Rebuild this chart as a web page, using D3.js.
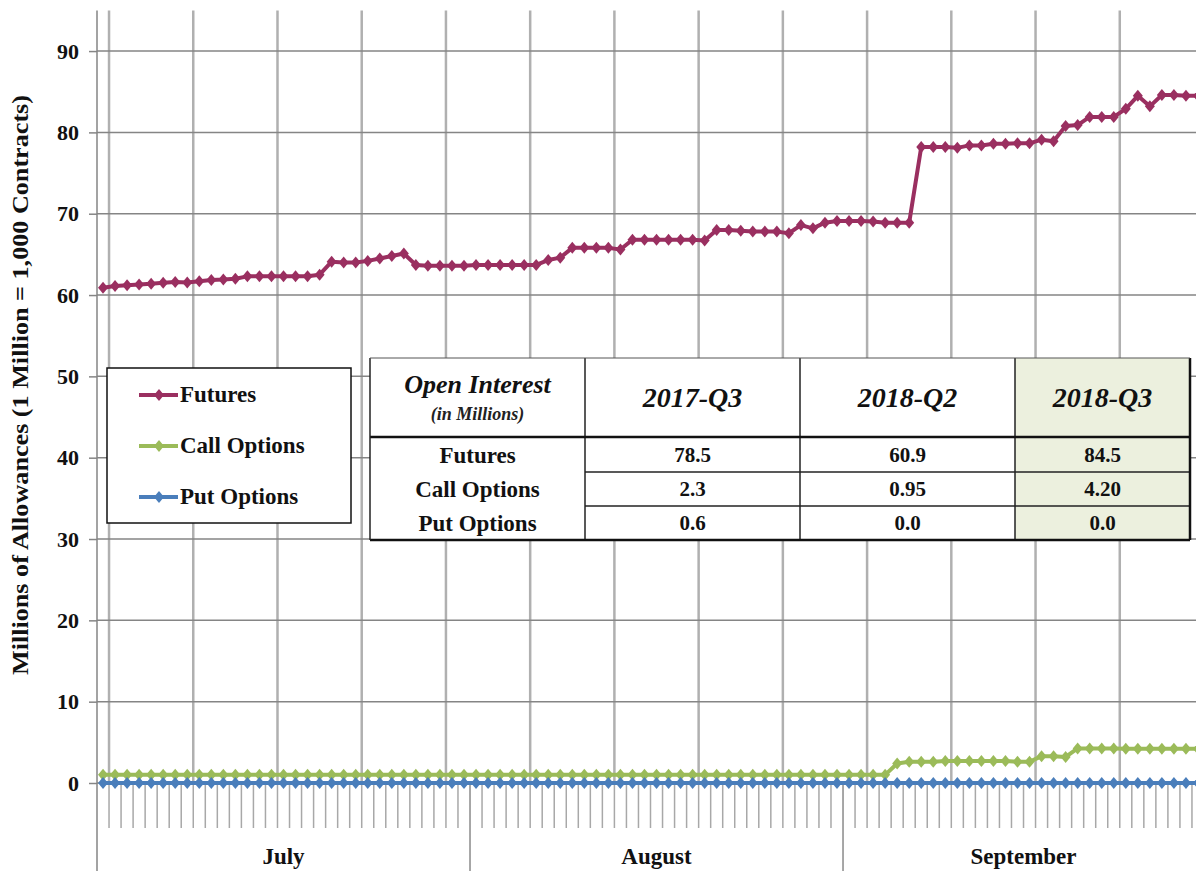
<!DOCTYPE html>
<html>
<head>
<meta charset="utf-8">
<script src="https://cdn.jsdelivr.net/npm/d3@7"></script>
<style>
  body { margin: 0; background: #fff; }
  svg { display: block; font-family: "Liberation Serif", "Times New Roman", serif; }
</style>
</head>
<body>
<svg id="chart" width="1196" height="871"></svg>
<script>
// one point per calendar day, July 1 - Sept 30 2018
const days = d3.timeDay.range(new Date(2018, 6, 1), new Date(2018, 9, 1));
const months = ['July', 'August', 'September'];
const yTicks = [0, 10, 20, 30, 40, 50, 60, 70, 80, 90];

const futures = [
  60.9, 61.1, 61.2, 61.3, 61.4, 61.5, 61.6, 61.55, 61.7, 61.85,
  61.9, 62.0, 62.3, 62.3, 62.3, 62.3, 62.3, 62.3, 62.5, 64.1,
  64.0, 64.0, 64.2, 64.5, 64.8, 65.1, 63.7, 63.6, 63.6, 63.6,
  63.6, 63.7, 63.7, 63.7, 63.7, 63.7, 63.7, 64.3, 64.6, 65.8,
  65.8, 65.8, 65.8, 65.6, 66.8, 66.8, 66.8, 66.8, 66.8, 66.8,
  66.7, 68.0, 68.0, 67.9, 67.8, 67.8, 67.8, 67.6, 68.6, 68.2,
  68.9, 69.1, 69.1, 69.1, 69.05, 68.9, 68.9, 68.9, 78.2, 78.2,
  78.2, 78.1, 78.4, 78.4, 78.6, 78.6, 78.65, 78.65, 79.1, 78.9,
  80.8, 80.9, 81.9, 81.9, 81.9, 82.9, 84.5, 83.2, 84.6, 84.6,
  84.5, 84.5
];
const callOptions = [
  1.0, 1.0, 1.0, 1.0, 1.0, 1.0, 1.0, 1.0, 1.0, 1.0,
  1.0, 1.0, 1.0, 1.0, 1.0, 1.0, 1.0, 1.0, 1.0, 1.0,
  1.0, 1.0, 1.0, 1.0, 1.0, 1.0, 1.0, 1.0, 1.0, 1.0,
  1.0, 1.0, 1.0, 1.0, 1.0, 1.0, 1.0, 1.0, 1.0, 1.0,
  1.0, 1.0, 1.0, 1.0, 1.0, 1.0, 1.0, 1.0, 1.0, 1.0,
  1.0, 1.0, 1.0, 1.0, 1.0, 1.0, 1.0, 1.0, 1.0, 1.0,
  1.0, 1.0, 1.0, 1.0, 1.0, 1.0, 2.4, 2.6, 2.6, 2.6,
  2.7, 2.7, 2.7, 2.7, 2.7, 2.7, 2.6, 2.6, 3.3, 3.3,
  3.2, 4.25, 4.25, 4.25, 4.25, 4.2, 4.2, 4.2, 4.2, 4.2,
  4.2, 4.2
];
const putOptions = [
  0, 0, 0, 0, 0, 0, 0, 0, 0, 0,
  0, 0, 0, 0, 0, 0, 0, 0, 0, 0,
  0, 0, 0, 0, 0, 0, 0, 0, 0, 0,
  0, 0, 0, 0, 0, 0, 0, 0, 0, 0,
  0, 0, 0, 0, 0, 0, 0, 0, 0, 0,
  0, 0, 0, 0, 0, 0, 0, 0, 0, 0,
  0, 0, 0, 0, 0, 0, 0, 0, 0, 0,
  0, 0, 0, 0, 0, 0, 0, 0, 0, 0,
  0, 0, 0, 0, 0, 0, 0, 0, 0, 0,
  0, 0
];

const seriesNames = ['Futures', 'Call Options', 'Put Options'];
const seriesColors = ['#9a2f60', '#9bbb59', '#4a7ebb'];

const tableCols = ['2017-Q3', '2018-Q2', '2018-Q3'];
const tableRows = ['Futures', 'Call Options', 'Put Options'];
const tableVals = [
  ['78.5', '60.9', '84.5'],
  ['2.3', '0.95', '4.20'],
  ['0.6', '0.0', '0.0']
];

const svg = d3.select('#chart');

const x = d3.scaleBand().domain(d3.range(days.length)).range([97, 1204]);
const y = d3.scaleLinear().domain([0, 95]).range([783, 10.4]);
const cx = i => x(i) + x.bandwidth() / 2;
const edge = i => i < days.length ? x(i) : x.range()[1];

// vertical gridlines: start of each week (Mondays)
const mondays = d3.range(days.length).filter(i => days[i].getDay() === 1);
svg.append('g').selectAll('line')
  .data(mondays)
  .enter().append('line')
  .attr('x1', i => x(i)).attr('x2', i => x(i))
  .attr('y1', y(95)).attr('y2', y(0))
  .attr('stroke', '#b0b0b0').attr('stroke-width', 2.5);

// horizontal gridlines
svg.append('g').selectAll('line')
  .data(yTicks.filter(d => d > 0))
  .enter().append('line')
  .attr('x1', 97).attr('x2', 1196)
  .attr('y1', d => y(d)).attr('y2', d => y(d))
  .attr('stroke', '#858585').attr('stroke-width', 1.5);

// y axis
const yAxis = svg.append('g')
  .attr('transform', 'translate(97,0)')
  .call(d3.axisLeft(y).tickValues(yTicks).tickSize(8).tickPadding(10).tickFormat(d3.format('d')));
yAxis.select('.domain').remove();
yAxis.selectAll('.tick line').attr('stroke', '#858585').attr('stroke-width', 1.5);
yAxis.selectAll('.tick text')
  .attr('font-family', '"Liberation Serif", serif')
  .attr('font-size', 22).attr('font-weight', 'bold').attr('fill', '#111');

// left axis line runs down through the category labels
svg.append('line')
  .attr('x1', 97).attr('x2', 97).attr('y1', y(95)).attr('y2', 871)
  .attr('stroke', '#858585').attr('stroke-width', 1.5);

// x axis line
svg.append('line')
  .attr('x1', 97).attr('x2', 1204).attr('y1', y(0)).attr('y2', y(0))
  .attr('stroke', '#858585').attr('stroke-width', 1.5);

// day ticks and month separators
const monthStarts = d3.range(days.length + 1).filter(i => i === days.length || days[i].getDate() === 1);
svg.append('g').selectAll('line')
  .data(d3.range(1, days.length + 1))
  .enter().append('line')
  .attr('x1', edge).attr('x2', edge)
  .attr('y1', y(0))
  .attr('y2', i => monthStarts.includes(i) ? 871 : 828)
  .attr('stroke', i => monthStarts.includes(i) ? '#8a8a8a' : '#a8a8a8')
  .attr('stroke-width', 1.5);

svg.append('g').selectAll('text')
  .data(months)
  .enter().append('text')
  .attr('x', (d, k) => (edge(monthStarts[k]) + edge(monthStarts[k + 1])) / 2)
  .attr('y', 864)
  .attr('text-anchor', 'middle')
  .attr('font-size', 23).attr('font-weight', 'bold').attr('fill', '#111')
  .text(d => d);

// y axis title
svg.append('text')
  .attr('transform', 'translate(28,385) rotate(-90)')
  .attr('text-anchor', 'middle')
  .attr('font-size', 23).attr('font-weight', 'bold').attr('fill', '#111')
  .attr('textLength', 580).attr('lengthAdjust', 'spacingAndGlyphs')
  .text('Millions of Allowances  (1 Million = 1,000 Contracts)');

// series
const diamond = 'M0,-6L5,0L0,6L-5,0Z';
const line = d3.line().x((d, i) => cx(i)).y(d => y(d));
[futures, callOptions, putOptions].forEach((vals, s) => {
  const g = svg.append('g');
  g.append('path')
    .datum(vals)
    .attr('d', line)
    .attr('fill', 'none')
    .attr('stroke', seriesColors[s])
    .attr('stroke-width', 4)
    .attr('stroke-linejoin', 'round');
  g.selectAll('path.mk')
    .data(vals)
    .enter().append('path')
    .attr('class', 'mk')
    .attr('d', diamond)
    .attr('transform', (d, i) => `translate(${cx(i)},${y(d)})`)
    .attr('fill', seriesColors[s]);
});

// legend
const legend = svg.append('g');
legend.append('rect')
  .attr('x', 107).attr('y', 368).attr('width', 244).attr('height', 155)
  .attr('fill', '#fff').attr('stroke', '#111').attr('stroke-width', 1.5);
const items = legend.selectAll('g.item')
  .data(seriesNames)
  .enter().append('g')
  .attr('class', 'item')
  .attr('transform', (d, i) => `translate(0,${395 + i * 51})`);
items.append('line')
  .attr('x1', 139).attr('x2', 178)
  .attr('stroke', (d, i) => seriesColors[i]).attr('stroke-width', 4);
items.append('path')
  .attr('d', diamond)
  .attr('transform', 'translate(159,0)')
  .attr('fill', (d, i) => seriesColors[i]);
items.append('text')
  .attr('x', 180).attr('y', 7)
  .attr('font-size', 23).attr('font-weight', 'bold').attr('fill', '#111')
  .text(d => d);

// open interest table
const colEdges = [370, 585, 800, 1015, 1190];
const rowEdges = [358, 437, 472, 506, 540];
const table = svg.append('g');
table.append('rect')
  .attr('x', colEdges[0]).attr('y', rowEdges[0])
  .attr('width', colEdges[4] - colEdges[0]).attr('height', rowEdges[4] - rowEdges[0])
  .attr('fill', '#fff');
table.append('rect')
  .attr('x', colEdges[3]).attr('y', rowEdges[0])
  .attr('width', colEdges[4] - colEdges[3]).attr('height', rowEdges[4] - rowEdges[0])
  .attr('fill', '#ecf0de');
// column lines
table.selectAll('line.col')
  .data(colEdges.slice(1, 4))
  .enter().append('line')
  .attr('x1', d => d).attr('x2', d => d)
  .attr('y1', rowEdges[0]).attr('y2', rowEdges[4])
  .attr('stroke', '#222').attr('stroke-width', 1.5);
// row lines inside the value columns
table.selectAll('line.row')
  .data(rowEdges.slice(2, 4))
  .enter().append('line')
  .attr('x1', colEdges[1]).attr('x2', colEdges[4])
  .attr('y1', d => d).attr('y2', d => d)
  .attr('stroke', '#222').attr('stroke-width', 1.5);
table.append('line')
  .attr('x1', colEdges[0]).attr('x2', colEdges[4])
  .attr('y1', rowEdges[1]).attr('y2', rowEdges[1])
  .attr('stroke', '#111').attr('stroke-width', 2.5);
table.append('line')
  .attr('x1', colEdges[0]).attr('x2', colEdges[4])
  .attr('y1', rowEdges[4]).attr('y2', rowEdges[4])
  .attr('stroke', '#111').attr('stroke-width', 2.5);
table.append('line')
  .attr('x1', colEdges[4]).attr('x2', colEdges[4])
  .attr('y1', rowEdges[0]).attr('y2', rowEdges[4])
  .attr('stroke', '#111').attr('stroke-width', 2.5);
table.append('line')
  .attr('x1', colEdges[0]).attr('x2', colEdges[0])
  .attr('y1', rowEdges[0]).attr('y2', rowEdges[4])
  .attr('stroke', '#222').attr('stroke-width', 1.5);
table.append('line')
  .attr('x1', colEdges[0]).attr('x2', colEdges[4])
  .attr('y1', rowEdges[0]).attr('y2', rowEdges[0])
  .attr('stroke', '#555').attr('stroke-width', 1);

const mid = (a, k) => (a[k] + a[k + 1]) / 2;
table.append('text')
  .attr('x', mid(colEdges, 0)).attr('y', 393)
  .attr('text-anchor', 'middle')
  .attr('font-size', 26).attr('font-weight', 'bold').attr('font-style', 'italic').attr('fill', '#111')
  .text('Open Interest');
table.append('text')
  .attr('x', mid(colEdges, 0)).attr('y', 420)
  .attr('text-anchor', 'middle')
  .attr('font-size', 18).attr('font-weight', 'bold').attr('font-style', 'italic').attr('fill', '#222')
  .text('(in Millions)');
table.selectAll('text.hdr')
  .data(tableCols)
  .enter().append('text')
  .attr('x', (d, k) => mid(colEdges, k + 1)).attr('y', 407)
  .attr('text-anchor', 'middle')
  .attr('font-size', 28).attr('font-weight', 'bold').attr('font-style', 'italic').attr('fill', '#111')
  .text(d => d);
table.selectAll('text.rl')
  .data(tableRows)
  .enter().append('text')
  .attr('x', mid(colEdges, 0)).attr('y', (d, r) => 463 + r * 34)
  .attr('text-anchor', 'middle')
  .attr('font-size', 23).attr('font-weight', 'bold').attr('fill', '#111')
  .text(d => d);
tableVals.forEach((row, r) => {
  table.selectAll(null)
    .data(row)
    .enter().append('text')
    .attr('x', (d, k) => mid(colEdges, k + 1)).attr('y', 462 + r * 34)
    .attr('text-anchor', 'middle')
    .attr('font-size', 21).attr('font-weight', 'bold').attr('fill', '#111')
    .text(d => d);
});
</script>
</body>
</html>
